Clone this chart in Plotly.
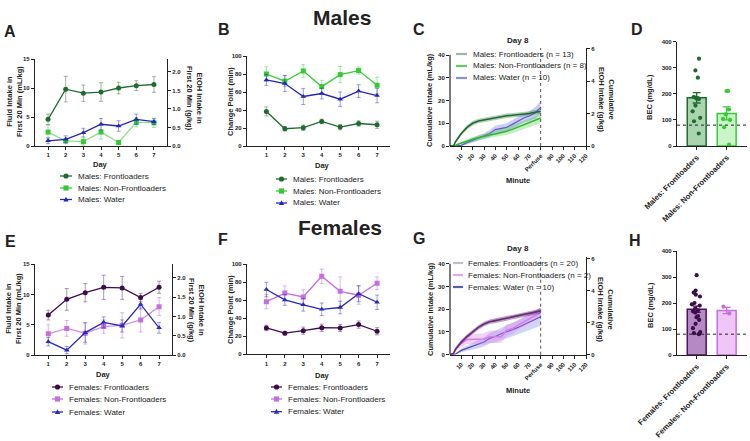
import plotly.graph_objects as go

W, H = 750, 441
FONT = "Liberation Sans, Arial, sans-serif"
NARROW = "Liberation Sans Narrow, Arial Narrow, Liberation Sans, Arial, sans-serif"
AXC = "#222222"

# ---------------- data ----------------
days = [1, 2, 3, 4, 5, 6, 7]

# A: Males, fluid intake in first 20 min (mL/kg)
a_front = [4.6, 9.8, 9.1, 9.3, 10.0, 10.4, 10.6]
a_front_sem = [0.9, 2.2, 1.4, 1.6, 1.0, 0.85, 1.35]
a_non = [2.4, 0.9, 0.75, 2.4, 0.6, 4.1, 4.0]
a_non_sem = [1.2, 0.5, 0.6, 1.2, 0.3, 0.8, 0.8]
a_water = [0.9, 1.15, 2.3, 3.75, 3.45, 4.6, 4.2]
a_water_sem = [0.5, 0.6, 0.75, 1.0, 0.9, 0.9, 0.5]

# B: Males, change point (min)
b_front = [38.4, 19.2, 20.3, 27.3, 21.0, 25.0, 23.6]
b_front_sem = [5, 2.5, 3, 2.5, 3, 3, 4]
b_non = [80, 72, 83.4, 66, 79.3, 83.8, 67.5]
b_non_sem = [8, 6, 7, 7, 9, 4, 9]
b_water = [73.4, 69.4, 55, 58.3, 52, 61, 56]
b_water_sem = [6, 9, 9, 6, 8, 7, 8]

# E: Females, fluid intake in first 20 min (mL/kg)
e_front = [6.6, 9.2, 10.3, 11.2, 11.1, 9.5, 11.2]
e_front_sem = [0.8, 1.8, 1.5, 2.0, 1.9, 0.7, 1.0]
e_non = [3.5, 4.4, 3.6, 4.7, 4.9, 5.8, 8.0]
e_non_sem = [1.5, 1.3, 1.8, 1.1, 2.1, 2.0, 1.5]
e_water = [2.2, 0.8, 3.7, 5.4, 4.8, 8.4, 4.5]
e_water_sem = [0.7, 0.6, 1.6, 0.9, 1.0, 0.8, 0.9]

# F: Females, change point (min)
f_front = [29.3, 23.5, 26.3, 29.5, 29.3, 33.0, 25.6]
f_front_sem = [3, 2, 4, 4, 4, 4, 4]
f_non = [58.5, 68, 63.7, 86.7, 70, 65.6, 79]
f_non_sem = [8, 8, 8, 8, 16, 10, 7]
f_water = [72, 60.4, 55, 50, 52, 67.4, 57.8]
f_water_sem = [8, 6, 7, 7, 7, 9, 8]

# C / G: Day 8 cumulative intake (mL/kg)
minutes = [0, 3, 5, 10, 15, 20, 25, 30, 35, 40, 45, 50, 55, 60, 65, 70, 75, 80]
c_front = [0, 0, 2.0, 5.5, 8.2, 10.0, 11.0, 11.5, 12.0, 12.3, 12.8, 13.3, 13.5, 13.7, 14.0, 14.3, 14.8, 15.2]
c_front_sem = [0, 0, 0.5, 0.8, 1, 1, 1, 1, 1, 1, 1, 1, 1, 1, 1, 1, 1, 1.1]
c_non = [0, 0, 0.3, 1.3, 2.2, 3.0, 3.6, 4.3, 4.8, 5.3, 5.8, 6.5, 7.3, 8.3, 9.2, 10.0, 11.0, 12.3]
c_non_sem = [0, 0, 0.3, 0.6, 0.8, 1.0, 1.1, 1.2, 1.3, 1.4, 1.5, 1.6, 1.7, 1.8, 1.9, 2.0, 2.1, 2.2]
c_water = [0, 0, 0, 0.3, 1.5, 2.5, 3.5, 4.2, 5.5, 7.2, 7.8, 8.2, 9.5, 11.0, 12.3, 13.2, 14.5, 17.0]
c_water_sem = [0, 0, 0, 0.3, 0.8, 1.0, 1.2, 1.3, 1.5, 1.7, 1.8, 1.8, 1.9, 2.0, 2.0, 2.2, 2.5, 2.8]

g_front = [0, 0.5, 2.5, 5.6, 8.0, 10.2, 12.0, 13.5, 14.5, 15.0, 15.5, 16.0, 16.5, 17.0, 17.5, 18.0, 18.6, 19.3]
g_front_sem = [0, 0.3, 0.6, 0.9, 1, 1, 1, 1, 1, 1, 1, 1, 1, 1, 1, 1, 1.1, 1.2]
g_non = [0, 0.5, 2.5, 5.0, 6.7, 6.7, 6.7, 6.9, 7.9, 7.9, 7.9, 10.8, 11.5, 13.0, 14.5, 16.0, 17.2, 18.5]
g_non_sem = [0, 0.3, 1.0, 1.5, 2.0, 2.2, 2.3, 2.5, 2.8, 2.8, 2.8, 2.5, 2.3, 2.0, 2.0, 1.8, 1.8, 1.8]
g_water = [0, 0, 0.3, 1.9, 2.8, 3.6, 4.6, 5.6, 7.2, 8.0, 9.2, 10.0, 11.0, 12.0, 13.2, 14.5, 15.6, 16.7]
g_water_sem = [0, 0, 0.3, 0.8, 1.2, 1.5, 1.8, 2.0, 2.3, 2.5, 2.7, 2.9, 3.0, 3.2, 3.4, 3.6, 3.8, 4.0]

# D / H: BEC (mg/dL)
d_cats = ["Males: Frontloaders", "Males: Non-Frontloaders"]
d_means = [185, 125]
d_sems = [20, 25]
d_front_pts = [335, 290, 262, 188, 186, 184, 182, 180, 155, 133, 108, 95, 48]
d_non_pts = [211, 211, 140, 121, 104, 100, 72, 5]

h_cats = ["Females: Frontloaders", "Females: Non-Frontloaders"]
h_means = [176, 171]
h_sems = [12, 12]
h_front_pts = [307, 248, 240, 232, 225, 200, 195, 190, 178, 172, 168, 163, 150, 145, 135, 120, 103, 88, 84, 80]
h_non_pts = [186, 160]

bec_threshold = 80
perfuse_minute = 80

# ---------------- helpers ----------------
def px(x):
    return x / W

def py(y):
    return 1 - y / H

def xdom(l, r):
    return [px(l), px(r)]

def ydom(b, t):
    return [py(b), py(t)]

def ax(domain, **kw):
    d = dict(domain=domain, showline=True, linecolor=AXC, linewidth=1.2,
             ticks="outside", ticklen=3, tickwidth=1, tickcolor=AXC,
             tickfont=dict(family=FONT, size=6, color=AXC, weight="bold"),
             showgrid=False, zeroline=False, fixedrange=True, automargin=False)
    d.update(kw)
    return d

fig = go.Figure()

def day_series(xa, ya, y, sem, color, line_color, err_color, symbol, size=5):
    fig.add_trace(go.Scatter(
        x=days, y=y, xaxis=xa, yaxis=ya, mode="lines+markers",
        line=dict(color=line_color, width=1.3),
        marker=dict(color=color, symbol=symbol, size=size),
        error_y=dict(type="data", array=sem, color=err_color, thickness=1, width=2),
        showlegend=False, hoverinfo="skip"))

# colours
M_FRONT, M_NON, M_WATER = "#1f6b2e", "#36c936", "#2525b8"
F_FRONT, F_NON, F_WATER = "#3d0c4c", "#c46fdc", "#2a2ab8"

# A
day_series("x", "y", a_non, a_non_sem, M_NON, "#8fdf8f", "rgba(54,201,54,0.45)", "square", 5)
day_series("x", "y", a_water, a_water_sem, M_WATER, M_WATER, "rgba(37,37,184,0.45)", "triangle-up", 5)
day_series("x", "y", a_front, a_front_sem, M_FRONT, M_FRONT, "rgba(100,130,105,0.6)", "circle", 5)
fig.add_trace(go.Scatter(x=[], y=[], xaxis="x", yaxis="y2", showlegend=False))
# B
day_series("x2", "y3", b_non, b_non_sem, M_NON, M_NON, "rgba(54,201,54,0.45)", "square", 5)
day_series("x2", "y3", b_water, b_water_sem, M_WATER, M_WATER, "rgba(37,37,184,0.45)", "triangle-up", 5)
day_series("x2", "y3", b_front, b_front_sem, M_FRONT, M_FRONT, "rgba(100,130,105,0.6)", "circle", 5)
# E
day_series("x5", "y7", e_non, e_non_sem, F_NON, "#d391e6", "rgba(196,111,220,0.5)", "square", 5)
day_series("x5", "y7", e_water, e_water_sem, F_WATER, F_WATER, "rgba(42,42,184,0.45)", "triangle-up", 5)
day_series("x5", "y7", e_front, e_front_sem, F_FRONT, F_FRONT, "rgba(110,90,120,0.6)", "circle", 5)
fig.add_trace(go.Scatter(x=[], y=[], xaxis="x5", yaxis="y8", showlegend=False))
# F
day_series("x6", "y9", f_non, f_non_sem, F_NON, F_NON, "rgba(196,111,220,0.5)", "square", 5)
day_series("x6", "y9", f_water, f_water_sem, F_WATER, F_WATER, "rgba(42,42,184,0.45)", "triangle-up", 5)
day_series("x6", "y9", f_front, f_front_sem, F_FRONT, F_FRONT, "rgba(110,90,120,0.6)", "circle", 5)

# C / G cumulative curves with SEM bands
def band_series(xa, ya, m, s, line_color, fill_color, lw=1.5):
    lo = [max(0, a - b) for a, b in zip(m, s)]
    hi = [a + b for a, b in zip(m, s)]
    fig.add_trace(go.Scatter(x=minutes, y=lo, xaxis=xa, yaxis=ya, mode="lines",
                             line=dict(width=0, color=fill_color), showlegend=False, hoverinfo="skip"))
    fig.add_trace(go.Scatter(x=minutes, y=hi, xaxis=xa, yaxis=ya, mode="lines", fill="tonexty",
                             fillcolor=fill_color, line=dict(width=0, color=fill_color),
                             showlegend=False, hoverinfo="skip"))
    fig.add_trace(go.Scatter(x=minutes, y=m, xaxis=xa, yaxis=ya, mode="lines",
                             line=dict(width=lw, color=line_color, shape="linear"),
                             showlegend=False, hoverinfo="skip"))

band_series("x3", "y4", c_water, c_water_sem, "#5c5cc4", "rgba(110,110,230,0.35)", 1.2)
band_series("x3", "y4", c_non, c_non_sem, "#2fb82f", "rgba(60,200,60,0.3)", 1.5)
band_series("x3", "y4", c_front, c_front_sem, "#1f6b2e", "rgba(40,120,60,0.35)", 1.6)
fig.add_trace(go.Scatter(x=[], y=[], xaxis="x3", yaxis="y5", showlegend=False))

band_series("x7", "y10", g_water, g_water_sem, "#4848b0", "rgba(110,110,235,0.3)", 1.2)
band_series("x7", "y10", g_non, g_non_sem, "#d67ce6", "rgba(214,124,230,0.35)", 1.5)
band_series("x7", "y10", g_front, g_front_sem, "#6a2a7a", "rgba(110,45,125,0.45)", 1.6)
fig.add_trace(go.Scatter(x=[], y=[], xaxis="x7", yaxis="y11", showlegend=False))

# D / H bars + points
def bec_panel(xa, ya, cats, means, sems, pts_list, fills, borders, pcolors):
    for i in range(2):
        fig.add_trace(go.Bar(x=[cats[i]], y=[means[i]], xaxis=xa, yaxis=ya, width=0.63,
                             marker=dict(color=fills[i], line=dict(color=borders[i], width=1.5)),
                             error_y=dict(type="data", array=[sems[i]], color=borders[i],
                                          thickness=1.3, width=4),
                             showlegend=False, hoverinfo="skip"))
    for i in range(2):
        fig.add_trace(go.Box(x=[cats[i]] * len(pts_list[i]), y=pts_list[i], xaxis=xa, yaxis=ya,
                             boxpoints="all", jitter=0.75, pointpos=0, width=0.45,
                             fillcolor="rgba(0,0,0,0)", line=dict(color="rgba(0,0,0,0)", width=0),
                             marker=dict(color=pcolors[i], size=4.2),
                             showlegend=False, hoverinfo="skip"))

bec_panel("x4", "y6", d_cats, d_means, d_sems, [d_front_pts, d_non_pts],
          ["#a9d4ae", "#c9f5c9"], [M_FRONT, M_NON], [M_FRONT, M_NON])
bec_panel("x8", "y12", h_cats, h_means, h_sems, [h_front_pts, h_non_pts],
          ["#b58ac4", "#f0c6f8"], ["#4a1458", F_NON], [F_FRONT, F_NON])

# ---------------- axes ----------------
cum_ticks = [10, 20, 30, 40, 50, 60, 70, 80, 90, 100, 110, 120]
cum_text = [str(v) if v != perfuse_minute else "Perfuse" for v in cum_ticks]
cat_font = dict(family=FONT, size=7.7, color=AXC, weight="bold")

layout_axes = dict(
    # A
    xaxis=ax(xdom(35, 167), range=[0.26, 7.74], tickvals=days, anchor="y"),
    yaxis=ax(ydom(146, 59), range=[0, 15], tickvals=[0, 5, 10, 15], anchor="x"),
    yaxis2=ax(ydom(146, 59), range=[0, 2.35], tickvals=[0, 0.5, 1, 1.5, 2], tickformat=".1f",
              overlaying="y", side="right", anchor="x"),
    # B
    xaxis2=ax(xdom(247, 390), range=[-0.05, 7.7], tickvals=days, anchor="y3"),
    yaxis3=ax(ydom(146, 56), range=[0, 100], tickvals=[0, 20, 40, 60, 80, 100], anchor="x2"),
    # C
    xaxis3=ax(xdom(450, 586), range=[0, 120], tickvals=cum_ticks, ticktext=cum_text,
              tickangle=-45, anchor="y4"),
    yaxis4=ax(ydom(146, 48), range=[0, 43.08], tickvals=[0, 10, 20, 30, 40], anchor="x3",
              showline=False),
    yaxis5=ax(ydom(146, 48), range=[0, 6.06], tickvals=[0, 2, 4, 6], overlaying="y4",
              side="right", anchor="x3"),
    # D
    xaxis4=ax(xdom(677, 747), type="category", range=[-0.657, 1.677], tickangle=-45,
              tickfont=cat_font, anchor="y6"),
    yaxis6=ax(ydom(146, 41.7), range=[0, 400], tickvals=[0, 100, 200, 300, 400], anchor="x4"),
    # E
    xaxis5=ax(xdom(35, 172), range=[0.28, 7.7], tickvals=days, anchor="y7"),
    yaxis7=ax(ydom(355, 264.3), range=[0, 15], tickvals=[0, 5, 10, 15], anchor="x5"),
    yaxis8=ax(ydom(355, 264.3), range=[0, 2.35], tickvals=[0, 0.5, 1, 1.5, 2], tickformat=".1f",
              overlaying="y7", side="right", anchor="x5"),
    # F
    xaxis6=ax(xdom(247, 390), range=[-0.05, 7.7], tickvals=days, anchor="y9"),
    yaxis9=ax(ydom(354.3, 264.3), range=[0, 100], tickvals=[0, 20, 40, 60, 80, 100], anchor="x6"),
    # G
    xaxis7=ax(xdom(450, 586), range=[0, 120], tickvals=cum_ticks, ticktext=cum_text,
              tickangle=-45, anchor="y10"),
    yaxis10=ax(ydom(354.7, 257), range=[0, 43.0], tickvals=[0, 10, 20, 30, 40], anchor="x7",
               showline=False),
    yaxis11=ax(ydom(354.7, 257), range=[0, 6.1], tickvals=[0, 2, 4, 6], overlaying="y10",
               side="right", anchor="x7"),
    # H
    xaxis8=ax(xdom(677, 747), type="category", range=[-0.657, 1.677], tickangle=-45,
              tickfont=cat_font, anchor="y12"),
    yaxis12=ax(ydom(355, 251), range=[0, 400], tickvals=[0, 100, 200, 300, 400], anchor="x8"),
)

# ---------------- shapes & annotations ----------------
shapes = []
annotations = []

def text(x, y, s, size=7.5, bold=True, angle=0, xanchor="center", yanchor="middle", family=FONT):
    annotations.append(dict(x=px(x), y=py(y), xref="paper", yref="paper", text=s,
                            showarrow=False, textangle=angle, xanchor=xanchor, yanchor=yanchor,
                            font=dict(family=family, size=size, color=AXC,
                                      weight="bold" if bold else "normal")))

# big titles and panel letters
text(342, 17, "Males", size=21, family=NARROW)
text(340, 227, "Females", size=21, family=NARROW)
for lt, (lx, ly) in {"A": (10, 31), "B": (224, 29), "C": (419, 29), "D": (637, 29),
                     "E": (10, 241), "F": (223, 239), "G": (419, 238), "H": (635, 240)}.items():
    text(lx, ly, lt, size=16)

# axis titles
text(14, 102, "Fluid Intake in<br>First 20 Min (mL/kg)", angle=-90)
text(195, 98, "EtOH Intake in<br>First 20 Min (g/kg)", angle=90)
text(101, 164, "Day")
text(230, 101, "Change Point (min)", angle=-90)
text(322, 165, "Day")
text(430, 100, "Cumulative Intake (mL/kg)", angle=-90)
text(606, 100, "Cumulative<br>EtOH Intake (g/kg)", angle=90)
text(518, 181, "Minute")
text(518, 40, "Day 8", size=8)
text(650, 97, "BEC (mg/dL)", angle=-90)

text(13, 309, "Fluid Intake in<br>First 20 Min (mL/kg)", angle=-90)
text(197, 310, "EtOH Intake in<br>First 20 Min (g/kg)", angle=90)
text(103, 374, "Day")
text(230, 309, "Change Point (min)", angle=-90)
text(322, 375, "Day")
text(430, 309, "Cumulative Intake (mL/kg)", angle=-90)
text(606, 310, "Cumulative<br>EtOH Intake (g/kg)", angle=90)
text(518, 390, "Minute")
text(518, 249, "Day 8", size=8)
text(650, 305, "BEC (mg/dL)", angle=-90)

# reference lines
for xa, ya in (("x3", "y4"), ("x7", "y10")):
    shapes.append(dict(type="line", xref=xa, x0=perfuse_minute, x1=perfuse_minute,
                       yref=f"{ya} domain", y0=0, y1=1, line=dict(color="#555", width=1, dash="dot")))
    shapes.append(dict(type="line", xref=f"{xa} domain", x0=0, x1=0, yref=ya, y0=0, y1=40,
                       line=dict(color=AXC, width=1.2)))
for xa, ya in (("x4", "y6"), ("x8", "y12")):
    shapes.append(dict(type="line", xref=f"{xa} domain", x0=0, x1=1, yref=ya,
                       y0=bec_threshold, y1=bec_threshold,
                       line=dict(color="#222", width=1, dash="dot")))

# manual legends
def marker_shape(cx, cy, symbol, color, r=2.6):
    if symbol == "circle":
        shapes.append(dict(type="circle", xref="paper", yref="paper", x0=px(cx - r), x1=px(cx + r),
                           y0=py(cy + r), y1=py(cy - r), fillcolor=color, line=dict(width=0)))
    elif symbol == "square":
        shapes.append(dict(type="rect", xref="paper", yref="paper", x0=px(cx - r), x1=px(cx + r),
                           y0=py(cy + r), y1=py(cy - r), fillcolor=color, line=dict(width=0)))
    else:
        path = (f"M {px(cx - r)},{py(cy + r * 0.8)} L {px(cx + r)},{py(cy + r * 0.8)} "
                f"L {px(cx)},{py(cy - r * 1.1)} Z")
        shapes.append(dict(type="path", xref="paper", yref="paper", path=path,
                           fillcolor=color, line=dict(width=0)))

def legend(x0, x1, xt, ys, labels, line_colors, marker_colors=None, symbols=None, lw=1.3):
    for i, (y, lab) in enumerate(zip(ys, labels)):
        shapes.append(dict(type="line", xref="paper", yref="paper", x0=px(x0), x1=px(x1),
                           y0=py(y), y1=py(y), line=dict(color=line_colors[i], width=lw)))
        if symbols:
            marker_shape((x0 + x1) / 2, y, symbols[i], marker_colors[i])
        text(xt, y, lab, size=8, bold=False, xanchor="left")

syms = ["circle", "square", "triangle"]
m_labels = ["Males: Frontloaders", "Males: Non-Frontloaders", "Males: Water"]
f_labels = ["Females: Frontloaders", "Females: Non-Frontloaders", "Females: Water"]
legend(60, 72, 76, [176, 188, 199.5], m_labels, [M_FRONT, M_NON, M_WATER],
       [M_FRONT, M_NON, M_WATER], syms)
legend(276, 287, 291, [179, 191, 203], m_labels, [M_FRONT, M_NON, M_WATER],
       [M_FRONT, M_NON, M_WATER], syms)
legend(52, 63, 67, [387, 399, 412], f_labels, [F_FRONT, F_NON, F_WATER],
       [F_FRONT, F_NON, F_WATER], syms)
legend(271, 282, 286, [387, 399, 411.7], f_labels, [F_FRONT, F_NON, F_WATER],
       [F_FRONT, F_NON, F_WATER], syms)
legend(456, 467, 471, [54, 66, 78],
       ["Males: Frontloaders (n = 13)", "Males: Non-Frontloaders (n = 8)", "Males: Water (n = 10)"],
       ["#9db7a3", "#5fcf5f", "#8f8fd8"], lw=2.2)
legend(453, 463, 466, [263, 275, 287],
       ["Females: Frontloaders (n = 20)", "Females: Non-Frontloaders (n = 2)", "Females: Water (n = 10)"],
       ["#c4bccb", "#e3a6ef", "#5b5bb8"], lw=2.2)

fig.update_layout(
    width=W, height=H, margin=dict(l=0, r=0, t=0, b=0, pad=0, autoexpand=False),
    autosize=False,
    paper_bgcolor="white", plot_bgcolor="rgba(0,0,0,0)",
    showlegend=False, barmode="overlay", boxmode="overlay",
    font=dict(family=FONT, color=AXC),
    shapes=shapes, annotations=annotations,
    **layout_axes,
)

fig.write_html("out.html", config={"displayModeBar": False},
               post_script="document.body.style.margin='0px';document.body.style.overflow='hidden';")
